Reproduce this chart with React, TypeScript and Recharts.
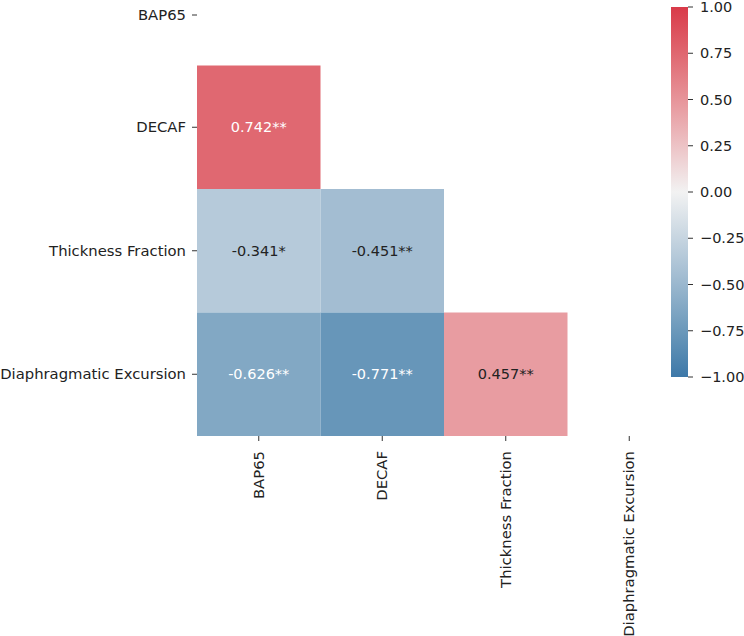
import React from 'react'
import { ScatterChart, Scatter, XAxis, YAxis, ReferenceArea, BarChart, Bar } from 'recharts'

const variables = ['BAP65', 'DECAF', 'Thickness Fraction', 'Diaphragmatic Excursion']
// lower triangle of the correlation matrix, row by row
const rowIndex = [1, 2, 2, 3, 3, 3]
const colIndex = [0, 0, 1, 0, 1, 2]
const corrValues = [0.742, -0.341, -0.451, -0.626, -0.771, 0.457]
const corrStars = ['**', '*', '**', '**', '**', '**']
const colorbarTicks = [-1, -0.75, -0.5, -0.25, 0, 0.25, 0.5, 0.75, 1]

// diverging colormap
const colorStops: [number, string][] = [
  [-1, '#3d78a8'],
  [-0.771, '#6796b9'],
  [-0.451, '#a3bdd2'],
  [0, '#f2f2f2'],
  [0.457, '#e89ca1'],
  [0.742, '#e06871'],
  [1, '#d93a49'],
]

const FONT = '"DejaVu Sans", sans-serif'
const TEXT = '#222222'
const TICK_FS = 14.8

const hexToRgb = (h: string) => [1, 3, 5].map((i) => parseInt(h.slice(i, i + 2), 16))

function colorFor(v: number) {
  for (let i = 0; i < colorStops.length - 1; i++) {
    const [v0, c0] = colorStops[i]
    const [v1, c1] = colorStops[i + 1]
    if (v >= v0 && v <= v1) {
      const t = (v - v0) / (v1 - v0)
      const a = hexToRgb(c0)
      const b = hexToRgb(c1)
      const m = a.map((x, k) => Math.round(x + (b[k] - x) * t))
      return `rgb(${m[0]},${m[1]},${m[2]})`
    }
  }
  return colorStops[colorStops.length - 1][1]
}

function isDark(v: number) {
  const rgb = colorFor(v).match(/\d+/g)!.map(Number)
  const lin = rgb.map((c) => {
    const s = c / 255
    return s <= 0.03928 ? s / 12.92 : Math.pow((s + 0.055) / 1.055, 2.4)
  })
  return 0.2126 * lin[0] + 0.7152 * lin[1] + 0.0722 * lin[2] < 0.408
}

const cells = corrValues.map((value, i) => ({
  x: colIndex[i] + 0.5,
  y: rowIndex[i] + 0.5,
  row: rowIndex[i],
  col: colIndex[i],
  value,
  label: value.toFixed(3) + corrStars[i],
}))

const tickPositions = variables.map((_, i) => i + 0.5)
const nameAt = (p: number) => variables[Math.floor(p)]

function YTick({ x, y, payload }: any) {
  // the top row is cut off in the picture, its label sits lower
  const yy = Math.max(y, 73)
  return (
    <g>
      <line x1={x + 6} x2={x + 11} y1={yy} y2={yy} stroke="#333" />
      <text x={x} y={yy} dy="0.35em" textAnchor="end" fontSize={TICK_FS} fill={TEXT} fontFamily={FONT}>
        {nameAt(payload.value)}
      </text>
    </g>
  )
}

function XTick({ x, y, payload }: any) {
  return (
    <text
      transform={`translate(${x},${y}) rotate(-90)`}
      dy="0.35em"
      textAnchor="end"
      fontSize={TICK_FS}
      fill={TEXT}
      fontFamily={FONT}
    >
      {nameAt(payload.value)}
    </text>
  )
}

function CellLabel({ cx, cy, payload }: any) {
  return (
    <text
      x={cx}
      y={cy}
      dy="0.35em"
      textAnchor="middle"
      fontSize={14.5}
      fontFamily={FONT}
      fill={isDark(payload.value) ? '#ffffff' : TEXT}
    >
      {payload.label}
    </text>
  )
}

const cbFormat = (v: number) => (v < 0 ? '\u2212' : '') + Math.abs(v).toFixed(2)
const colorbarData = [{ name: 'cb', range: [-1, 1] }]

export default function App() {
  return (
    <div
      style={{
        position: 'absolute',
        left: 0,
        top: 0,
        width: 744,
        height: 636,
        overflow: 'hidden',
        background: '#fff',
        fontFamily: FONT,
      }}
    >
      <div style={{ position: 'absolute', left: 0, top: -58 }}>
        <ScatterChart width={744} height={700} margin={{ top: 0, right: 53, bottom: 56, left: 7 }}>
          <XAxis
            type="number"
            dataKey="x"
            domain={[0, 4]}
            ticks={tickPositions}
            height={150}
            axisLine={false}
            tickLine={{ stroke: '#333' }}
            tickSize={5}
            tickMargin={10}
            tick={<XTick />}
            interval={0}
          />
          <YAxis
            type="number"
            dataKey="y"
            domain={[0, 4]}
            reversed
            ticks={tickPositions}
            width={190}
            axisLine={false}
            tickLine={false}
            tickSize={5}
            tickMargin={6}
            tick={<YTick />}
            interval={0}
          />
          {cells.map((c, i) => (
            <ReferenceArea
              key={i}
              x1={c.col}
              x2={c.col + 1}
              y1={c.row}
              y2={c.row + 1}
              fill={colorFor(c.value)}
              fillOpacity={1}
              stroke="none"
              ifOverflow="visible"
            />
          ))}
          <Scatter data={cells} isAnimationActive={false} shape={(p: any) => <CellLabel {...p} />} />
        </ScatterChart>
      </div>
      <div style={{ position: 'absolute', left: 671, top: 0 }}>
        <BarChart
          width={90}
          height={390}
          data={colorbarData}
          margin={{ top: 7, right: 0, bottom: 13, left: 0 }}
          barCategoryGap={0}
        >
          <defs>
            <linearGradient id="cbGrad" x1="0" y1="0" x2="0" y2="1">
              {[...colorStops].reverse().map(([v, c], i) => (
                <stop key={i} offset={`${((1 - v) / 2) * 100}%`} stopColor={c} />
              ))}
            </linearGradient>
          </defs>
          <XAxis dataKey="name" hide />
          <YAxis
            orientation="right"
            type="number"
            domain={[-1, 1]}
            ticks={colorbarTicks}
            width={73}
            axisLine={false}
            tickLine={{ stroke: '#333' }}
            tickSize={5}
            tickMargin={7}
            tickFormatter={cbFormat}
            tick={{ fontSize: 14.5, fill: TEXT, fontFamily: FONT, textAnchor: 'start' }}
            interval={0}
          />
          <Bar dataKey="range" fill="url(#cbGrad)" isAnimationActive={false} />
        </BarChart>
      </div>
    </div>
  )
}
